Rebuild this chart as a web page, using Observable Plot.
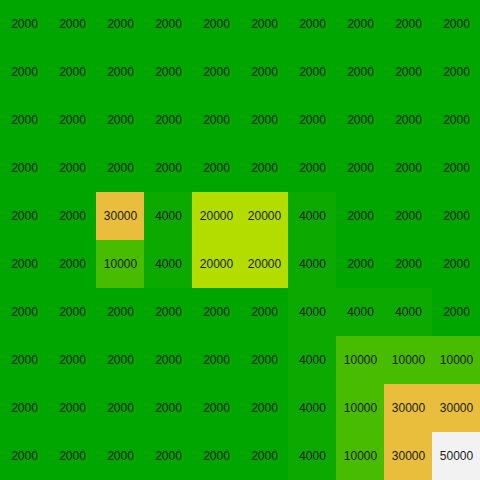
<!DOCTYPE html>
<html>
<head>
<meta charset="utf-8">
<script src="https://cdn.jsdelivr.net/npm/d3@7"></script>
<script src="https://cdn.jsdelivr.net/npm/@observablehq/plot@0.6"></script>
<style>
  html, body { margin: 0; padding: 0; background: #fff; }
</style>
</head>
<body>
<div id="chart"></div>
<script>
const rows = [0,1,2,3,4,5,6,7,8,9];
const cols = [0,1,2,3,4,5,6,7,8,9];
const grid = [
  [2000,2000,2000,2000,2000,2000,2000,2000,2000,2000],
  [2000,2000,2000,2000,2000,2000,2000,2000,2000,2000],
  [2000,2000,2000,2000,2000,2000,2000,2000,2000,2000],
  [2000,2000,2000,2000,2000,2000,2000,2000,2000,2000],
  [2000,2000,30000,4000,20000,20000,4000,2000,2000,2000],
  [2000,2000,10000,4000,20000,20000,4000,2000,2000,2000],
  [2000,2000,2000,2000,2000,2000,4000,4000,4000,2000],
  [2000,2000,2000,2000,2000,2000,4000,10000,10000,10000],
  [2000,2000,2000,2000,2000,2000,4000,10000,30000,30000],
  [2000,2000,2000,2000,2000,2000,4000,10000,30000,50000]
];
const levels = [2000, 4000, 10000, 20000, 30000, 50000];
const levelColors = ["#00A600", "#0CAA00", "#48BC00", "#B3DC00", "#E8BE3C", "#F2F2F2"];

const data = [];
rows.forEach(r => cols.forEach(c => data.push({row: r, col: c, value: grid[r][c]})));

const chart = Plot.plot({
  width: 480,
  height: 480,
  margin: 0,
  x: {type: "band", domain: cols, padding: 0, axis: null},
  y: {type: "band", domain: rows, padding: 0, axis: null},
  color: {type: "ordinal", domain: levels, range: levelColors},
  style: {background: "#fff", fontFamily: "'Liberation Sans', Arial, sans-serif"},
  marks: [
    Plot.cell(data, {x: "col", y: "row", fill: "value", inset: 0}),
    Plot.text(data, {x: "col", y: "row", text: d => String(d.value), fill: "#1a1a1a", fontSize: 12})
  ]
});
document.getElementById("chart").appendChild(chart);
</script>
</body>
</html>
